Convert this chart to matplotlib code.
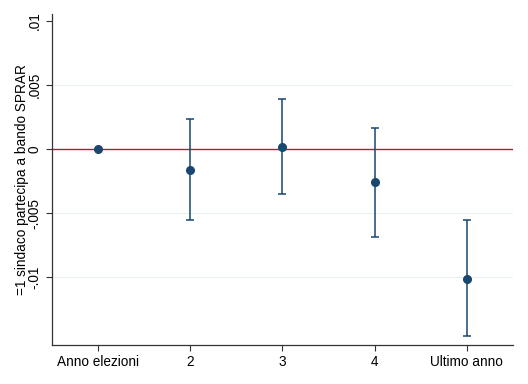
import numpy as np
import matplotlib.pyplot as plt

plt.rcParams['font.family'] = ['Liberation Sans', 'DejaVu Sans']

labels = ["Anno elezioni", "2", "3", "4", "Ultimo anno"]
coef = [0.0, -0.00162, 0.00016, -0.0026, -0.0101]
ci_low = [np.nan, -0.00555, -0.00352, -0.00685, -0.01461]
ci_high = [np.nan, 0.00234, 0.0039, 0.00164, -0.00555]

navy = "#1a476f"

fig = plt.figure(figsize=(5.28, 3.84), dpi=100)
ax = fig.add_axes([0.0985, 0.1016, 0.873, 0.862])

x = np.arange(1, len(labels) + 1)
coef = np.array(coef)
lo = np.array(ci_low)
hi = np.array(ci_high)

for y in [0.005, -0.005, -0.01]:
    ax.axhline(y, color="#eaf0f0", lw=0.8, zorder=0)
ax.axhline(0, color="#c8103a", lw=1.0, zorder=1)

m = ~np.isnan(lo)
ax.errorbar(x[m], coef[m], yerr=[coef[m] - lo[m], hi[m] - coef[m]],
            fmt="none", ecolor=navy, elinewidth=1.1, capsize=2.6, capthick=1.1, zorder=2)
ax.plot(x, coef, "o", color=navy, ms=5.5, zorder=3)

ax.set_xlim(0.5, 5.5)
ax.set_ylim(-0.01529, 0.01055)
ax.set_xticks(x)
ax.set_xticklabels(labels)
ax.set_yticks([-0.01, -0.005, 0, 0.005, 0.01])
ax.set_yticklabels(["-.01", "-.005", "0", ".005", ".01"], rotation=90, va="center")
ax.set_ylabel("=1 sindaco partecipa a bando SPRAR", fontsize=9.8, va="center")
ax.yaxis.set_label_coords(-0.066, 0.5)

for s in ["top", "right"]:
    ax.spines[s].set_visible(False)
for s in ["left", "bottom"]:
    ax.spines[s].set_color("#333333")
    ax.spines[s].set_linewidth(0.9)
ax.tick_params(direction="out", length=4, width=0.8, color="#333333", labelsize=9.8)

fig.savefig("out.png", dpi=100)
